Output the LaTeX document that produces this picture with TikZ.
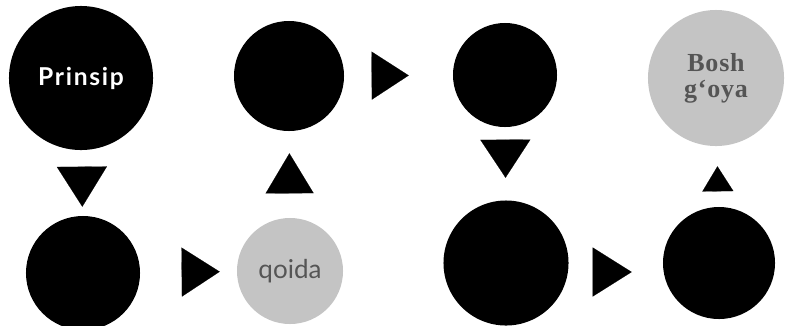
\documentclass[tikz,border=0pt]{standalone}
\usepackage{fontspec}
\usepackage{tikz}
\usetikzlibrary{arrows.meta}
\newfontfamily\prinfont[LetterSpace=7]{Lato}
\newfontfamily\qoidafont{Lato}
\newfontfamily\boshfont[LetterSpace=3]{Liberation Serif}
\definecolor{discgrey}{HTML}{C4C4C4}
\definecolor{inkgrey}{HTML}{555555}

\begin{document}
\begin{tikzpicture}[x=0.025cm,y=-0.025cm,
  disc/.style={circle,fill=black,inner sep=0pt,minimum size=#1},
  pale/.style={circle,fill=discgrey,inner sep=0pt,minimum size=#1,text=inkgrey},
  wedge/.style args={#1/#2}{line width=0.1pt,-{Triangle[length=#1,width=#2]}}]
\useasboundingbox (0,0) rectangle (788,325);
% discs, top row then bottom row
\node[disc=3.6cm,text=white,font=\prinfont\bfseries\fontsize{17.5pt}{18pt}\selectfont] (pr) at (81,78) {Prinsip};
\node[disc=2.75cm] (hi1) at (289,76) {};
\node[disc=2.6cm] (hi2) at (505,75) {};
\node[pale=3.4cm,align=center,font=\boshfont\bfseries\fontsize{18.5pt}{18.5pt}\selectfont]
  (bg) at (716,78) {Bosh\\g‘oya};
\node[disc=2.85cm] (lo1) at (83,273) {};
\node[pale=2.65cm,font=\qoidafont\fontsize{18.5pt}{18pt}\selectfont] (qo) at (290,271) {qoida};
\node[disc=3.125cm] (lo2) at (506,263) {};
\node[disc=2.8cm] (lo3) at (719,263) {};
% triangle pointers
\draw[wedge=1cm/1.25cm,shorten <=0.425cm,shorten >=0.225cm] (pr) -- (lo1);
\draw[wedge=0.95cm/1.225cm,shorten <=1.05cm,shorten >=0.425cm] (lo1) -- (qo);
\draw[wedge=1cm/1.2cm,shorten <=0.625cm,shorten >=0.55cm] (qo) -- (hi1);
\draw[wedge=0.925cm/1.2cm,shorten <=0.7cm,shorten >=1.1cm] (hi1) -- (hi2);
\draw[wedge=0.95cm/1.25cm,shorten <=0.325cm,shorten >=0.5625cm] (hi2) -- (lo2);
\draw[wedge=0.975cm/1.225cm,shorten <=0.61cm,shorten >=0.775cm]
  ([yshift=-0.225cm]lo2.east) -- ([yshift=-0.225cm]lo3.west);
\draw[wedge=0.625cm/0.775cm,shorten <=0.375cm,shorten >=0.5cm] (lo3) -- (bg);
\end{tikzpicture}
\end{document}
